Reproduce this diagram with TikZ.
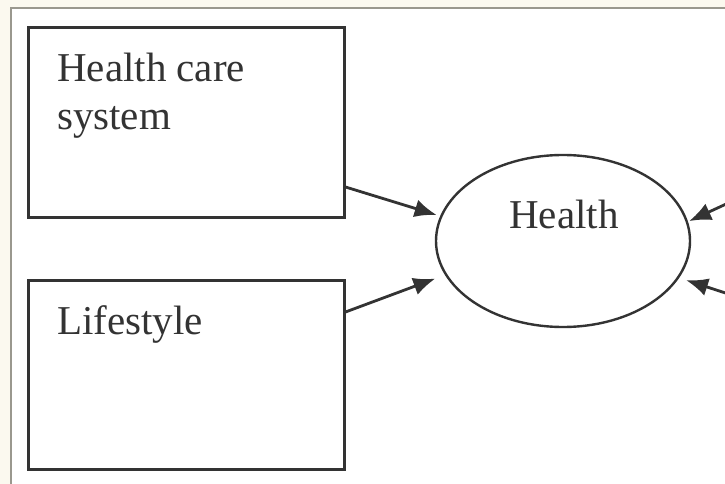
\documentclass[tikz,border=0pt]{standalone}
\usepackage{fontspec}
\setmainfont{Liberation Serif}
\usetikzlibrary{arrows.meta,shapes.geometric}
\definecolor{pagebg}{HTML}{FBF9EF}
\definecolor{framegray}{HTML}{9A988E}
\definecolor{ink}{HTML}{333333}
\tikzset{
  box/.style={draw=ink, line width=3pt, minimum width=316pt, minimum height=189pt, inner sep=0pt},
  oval/.style={draw=ink, line width=2.4pt, ellipse, minimum width=254pt, minimum height=172pt, inner sep=0pt},
  lbl/.style={font=\fontsize{41}{48}\selectfont, text=ink, anchor=base west, inner sep=0pt, align=left},
  arr/.style={draw=ink, line width=2.8pt, -{Latex[length=22pt,width=18pt]}},
}
\begin{document}
\begin{tikzpicture}[x=1pt, y=-1pt]
\useasboundingbox (0,0) rectangle (725,484);
\clip (0,0) rectangle (725,484);
\fill[pagebg] (0,0) rectangle (725,484);
\fill[white] (11,8) rectangle (730,490);
\draw[framegray, line width=2pt] (11,490) -- (11,8) -- (730,8);
\node[box] (hcs) at (186,122.5) {};
\node[box] (ls) at (186,375) {};
\node[oval] (hl) at (563,241) {};
\node[lbl] (hcst) at (57,130) {Health care\\system};
\node[lbl] (lst) at (57,334) {Lifestyle};
\node[lbl, anchor=base] (hlt) at (564,228) {Health};
\coordinate (r1) at (750,193);
\coordinate (r2) at (750,301);
\draw[arr] ([yshift=-64.5pt]hcs.east) -- ([xshift=-4pt]hl.168);
\draw[arr] ([yshift=63pt]ls.east) -- ([xshift=-12pt]hl.198);
\draw[arr] (r1) -- ([xshift=2pt,yshift=-2pt]hl.10);
\draw[arr] (r2) -- ([xshift=10pt,yshift=2pt]hl.-20);
\end{tikzpicture}
\end{document}
